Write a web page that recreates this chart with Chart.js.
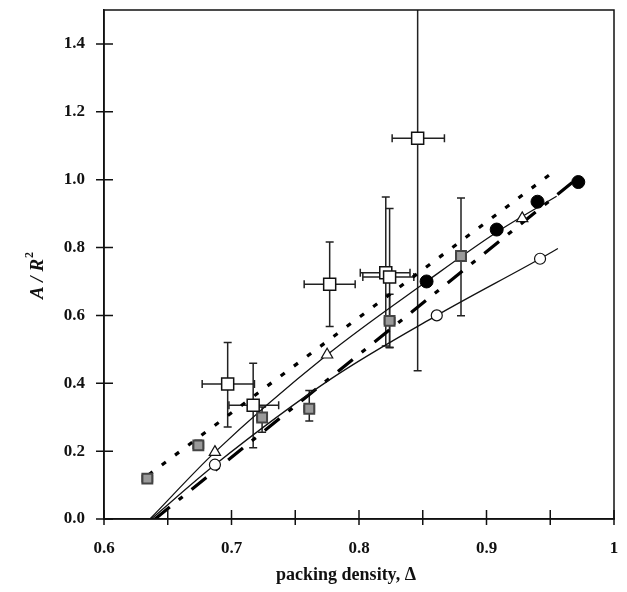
<!DOCTYPE html>
<html>
<head>
<meta charset="utf-8">
<script src="https://cdn.jsdelivr.net/npm/chart.js@4"></script>
<style>
  html, body { margin: 0; padding: 0; background: #fff; }
  canvas { display: block; }
</style>
</head>
<body>
<canvas id="grafico" width="627" height="592"></canvas>
<script>
// ticks
const xTickValues = [0.6, 0.7, 0.8, 0.9, 1.0];
const xTickLabels = ["0.6", "0.7", "0.8", "0.9", "1"];
const xMinorTicks = [0.65, 0.75, 0.85, 0.95];
const yTickValues = [0, 0.2, 0.4, 0.6, 0.8, 1.0, 1.2, 1.4];
const yTickLabels = ["0.0", "0.2", "0.4", "0.6", "0.8", "1.0", "1.2", "1.4"];

// filled circles
const filledX = [0.853, 0.908, 0.940, 0.972];
const filledY = [0.700, 0.853, 0.935, 0.993];

// open circles
const openCircleX = [0.687, 0.861, 0.942];
const openCircleY = [0.160, 0.600, 0.767];

// open triangles
const triangleX = [0.687, 0.775, 0.928];
const triangleY = [0.197, 0.484, 0.886];

// open squares with x and y error bars
const squareX = [0.697, 0.717, 0.777, 0.821, 0.824, 0.846];
const squareY = [0.398, 0.335, 0.692, 0.726, 0.713, 1.122];
const squareXLo = [0.677, 0.698, 0.757, 0.801, 0.803, 0.826];
const squareXHi = [0.718, 0.737, 0.797, 0.840, 0.843, 0.867];
const squareYLo = [0.271, 0.210, 0.567, 0.510, 0.505, 0.437];
const squareYHi = [0.520, 0.459, 0.816, 0.949, 0.915, 1.600];

// grey squares with small error bars
const greyX = [0.634, 0.674, 0.724, 0.761, 0.824, 0.880];
const greyY = [0.119, 0.217, 0.299, 0.325, 0.584, 0.775];
const greyXLo = [0.630, 0.670, 0.720, 0.757, 0.820, 0.876];
const greyXHi = [0.638, 0.678, 0.728, 0.765, 0.828, 0.884];
const greyYLo = [0.110, 0.205, 0.256, 0.289, 0.506, 0.599];
const greyYHi = [0.128, 0.232, 0.330, 0.379, 0.662, 0.946];

// fitted / model curves
const dottedX = [0.635, 0.955];
const dottedY = [0.130, 1.030];
const dashDotX = [0.640, 0.970];
const dashDotY = [0.000, 1.000];
const curveTriX = [0.636, 0.687, 0.775, 0.853, 0.908, 0.955];
const curveTriY = [0.000, 0.197, 0.484, 0.700, 0.845, 0.951];
const curveCircX = [0.637, 0.687, 0.778, 0.861, 0.942, 0.956];
const curveCircY = [0.000, 0.160, 0.413, 0.600, 0.767, 0.797];

const pts = (xs, ys) => xs.map((x, i) => ({ x: x, y: ys[i] }));

const serif = '"Liberation Serif", "DejaVu Serif", serif';

const errorSets = [
  { xs: squareX, ys: squareY, xLo: squareXLo, xHi: squareXHi, yLo: squareYLo, yHi: squareYHi },
  { xs: greyX, ys: greyY, xLo: greyXLo, xHi: greyXHi, yLo: greyYLo, yHi: greyYHi },
];

const errorBars = {
  id: "errorBars",
  beforeDatasetsDraw(chart) {
    const { ctx, chartArea, scales } = chart;
    const sx = scales.x, sy = scales.y;
    const cap = 4;
    ctx.save();
    ctx.beginPath();
    ctx.rect(chartArea.left, chartArea.top, chartArea.right - chartArea.left, chartArea.bottom - chartArea.top);
    ctx.clip();
    ctx.strokeStyle = "#222";
    ctx.lineWidth = 1.5;
    errorSets.forEach((s) => {
      s.xs.forEach((x, i) => {
        const px = sx.getPixelForValue(x);
        const py = sy.getPixelForValue(s.ys[i]);
        const x0 = sx.getPixelForValue(s.xLo[i]);
        const x1 = sx.getPixelForValue(s.xHi[i]);
        const y0 = sy.getPixelForValue(s.yLo[i]);
        const y1 = sy.getPixelForValue(s.yHi[i]);
        ctx.beginPath();
        ctx.moveTo(px, y0); ctx.lineTo(px, y1);
        ctx.moveTo(px - cap, y0); ctx.lineTo(px + cap, y0);
        ctx.moveTo(px - cap, y1); ctx.lineTo(px + cap, y1);
        ctx.moveTo(x0, py); ctx.lineTo(x1, py);
        ctx.moveTo(x0, py - cap); ctx.lineTo(x0, py + cap);
        ctx.moveTo(x1, py - cap); ctx.lineTo(x1, py + cap);
        ctx.stroke();
      });
    });
    ctx.restore();
  },
};

const frame = {
  id: "frame",
  afterDraw(chart) {
    const { ctx, chartArea, scales } = chart;
    const { left, right, top, bottom } = chartArea;
    ctx.save();
    ctx.strokeStyle = "#111";
    ctx.lineWidth = 1.5;
    ctx.strokeRect(left, top, right - left, bottom - top);

    // tick marks crossing the axes
    ctx.beginPath();
    xTickValues.concat(xMinorTicks).forEach((v) => {
      const px = scales.x.getPixelForValue(v);
      ctx.moveTo(px, bottom + 6);
      ctx.lineTo(px, bottom - 9);
    });
    yTickValues.forEach((v) => {
      const py = scales.y.getPixelForValue(v);
      ctx.moveTo(left - 8, py);
      ctx.lineTo(left + 9, py);
    });
    ctx.stroke();

    // axis titles
    ctx.fillStyle = "#111";
    ctx.textBaseline = "middle";
    ctx.textAlign = "center";
    ctx.font = "bold 18px " + serif;
    ctx.fillText("packing density, \u0394", 346, 575);

    ctx.translate(38, 276);
    ctx.rotate(-Math.PI / 2);
    const main = "A / R";
    ctx.font = "italic bold 19px " + serif;
    const wMain = ctx.measureText(main).width;
    ctx.font = "bold 12px " + serif;
    const wSup = ctx.measureText("2").width;
    const start = -(wMain + wSup) / 2;
    ctx.textAlign = "left";
    ctx.font = "italic bold 19px " + serif;
    ctx.fillText(main, start, 0);
    ctx.font = "bold 12px " + serif;
    ctx.fillText("2", start + wMain + 1, -8);
    ctx.restore();
  },
};

const ctx = document.getElementById("grafico").getContext("2d");

new Chart(ctx, {
  type: "scatter",
  data: {
    datasets: [
      {
        label: "filled",
        data: pts(filledX, filledY),
        pointStyle: "circle",
        pointRadius: 6.5,
        backgroundColor: "#000",
        borderColor: "#000",
        borderWidth: 1,
      },
      {
        label: "open circles",
        data: pts(openCircleX, openCircleY),
        pointStyle: "circle",
        pointRadius: 5.5,
        backgroundColor: "#fff",
        borderColor: "#111",
        borderWidth: 1.2,
      },
      {
        label: "triangles",
        data: pts(triangleX, triangleY),
        pointStyle: "triangle",
        pointRadius: 6.5,
        backgroundColor: "#fff",
        borderColor: "#111",
        borderWidth: 1.2,
      },
      {
        label: "squares",
        data: pts(squareX, squareY),
        pointStyle: "rect",
        pointRadius: 8.5,
        backgroundColor: "#fff",
        borderColor: "#111",
        borderWidth: 1.5,
      },
      {
        label: "grey squares",
        data: pts(greyX, greyY),
        pointStyle: "rect",
        pointRadius: 7,
        backgroundColor: "#9a9a9a",
        borderColor: "#444",
        borderWidth: 2,
      },
      {
        label: "curve triangles",
        data: pts(curveTriX, curveTriY),
        showLine: true,
        pointRadius: 0,
        borderColor: "#111",
        borderWidth: 1.3,
        cubicInterpolationMode: "monotone",
      },
      {
        label: "curve circles",
        data: pts(curveCircX, curveCircY),
        showLine: true,
        pointRadius: 0,
        borderColor: "#111",
        borderWidth: 1.3,
        cubicInterpolationMode: "monotone",
      },
      {
        label: "dotted",
        data: pts(dottedX, dottedY),
        showLine: true,
        pointRadius: 0,
        borderColor: "#000",
        borderWidth: 3.2,
        borderDash: [5, 11.5],
      },
      {
        label: "dash-dot",
        data: pts(dashDotX, dashDotY),
        showLine: true,
        pointRadius: 0,
        borderColor: "#000",
        borderWidth: 3.2,
        borderDash: [19, 11.5, 5, 11.5],
      },
    ],
  },
  options: {
    responsive: false,
    animation: false,
    layout: { padding: { top: 9, right: 13, left: 0, bottom: 0 } },
    plugins: {
      legend: { display: false },
      tooltip: { enabled: false },
    },
    scales: {
      x: {
        type: "linear",
        min: 0.6,
        max: 1.0,
        afterBuildTicks: (scale) => {
          scale.ticks = xTickValues.map((v) => ({ value: v }));
        },
        afterFit: (scale) => {
          scale.height = 73;
          scale.paddingLeft = 0;
          scale.paddingRight = 0;
        },
        ticks: {
          autoSkip: false,
          maxRotation: 0,
          padding: 19,
          color: "#111",
          font: { family: serif, size: 17, weight: "bold" },
          callback: (v, i) => xTickLabels[i],
        },
        grid: { display: false, drawTicks: false },
        border: { display: true, color: "#111", width: 1.5 },
      },
      y: {
        type: "linear",
        min: 0,
        max: 1.5,
        afterBuildTicks: (scale) => {
          scale.ticks = yTickValues.map((v) => ({ value: v }));
        },
        afterFit: (scale) => {
          scale.width = 104;
          scale.paddingTop = 0;
          scale.paddingBottom = 0;
        },
        ticks: {
          autoSkip: false,
          padding: 19,
          color: "#111",
          font: { family: serif, size: 17, weight: "bold" },
          callback: (v, i) => yTickLabels[i],
        },
        grid: { display: false, drawTicks: false },
        border: { display: true, color: "#111", width: 1.5 },
      },
    },
  },
  plugins: [errorBars, frame],
});
</script>
</body>
</html>
